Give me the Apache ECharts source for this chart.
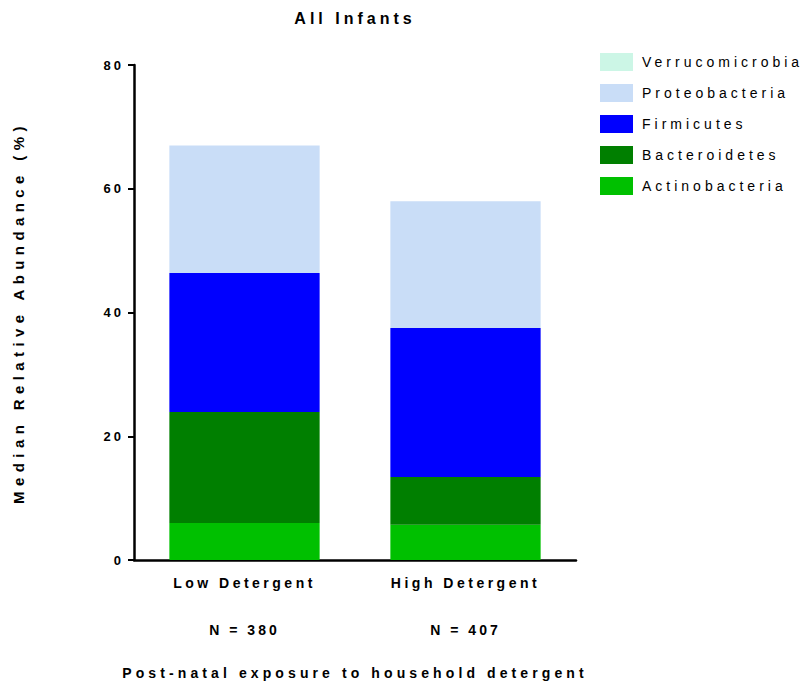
<!DOCTYPE html>
<html>
<head>
<meta charset="utf-8">
<script src="https://cdn.jsdelivr.net/npm/echarts@6/dist/echarts.min.js"></script>
<style>
  html, body { margin: 0; padding: 0; background: #fff; }
  #chart { width: 806px; height: 685px; }
  #chart svg text { letter-spacing: 3px; }
</style>
</head>
<body>
<div id="chart"></div>
<script>
const categories = ['Low Detergent', 'High Detergent'];
const sampleSizes = ['N = 380', 'N = 407'];
const yTicks = [0, 20, 40, 60, 80];

const actinobacteria  = [6.0, 5.7];
const bacteroidetes   = [17.9, 7.7];
const firmicutes      = [22.5, 24.1];
const proteobacteria  = [20.6, 20.5];
const verrucomicrobia = [0, 0];

const seriesNames  = ['Actinobacteria', 'Bacteroidetes', 'Firmicutes', 'Proteobacteria', 'Verrucomicrobia'];
const seriesValues = [actinobacteria, bacteroidetes, firmicutes, proteobacteria, verrucomicrobia];
const seriesColors = ['#00C000', '#007F00', '#0000FF', '#C9DDF7', '#CCF6E6'];
const legendOrder  = ['Verrucomicrobia', 'Proteobacteria', 'Firmicutes', 'Bacteroidetes', 'Actinobacteria'];

const titleText = 'All Infants';
const yName = 'Median Relative Abundance (%)';
const xName = 'Post-natal exposure to household detergent';

const FONT = 'Liberation Sans, Arial, sans-serif';

const chart = echarts.init(document.getElementById('chart'), null, { renderer: 'svg' });
chart.setOption({
  animation: false,
  title: {
    text: titleText,
    left: 350,
    top: 5,
    textAlign: 'center',
    textStyle: { fontFamily: FONT, fontWeight: 'bold', fontSize: 16, color: '#000' }
  },
  legend: {
    orient: 'vertical',
    left: 595,
    top: 48,
    itemWidth: 33,
    itemHeight: 18,
    itemGap: 13,
    icon: 'rect',
    data: legendOrder,
    textStyle: { fontFamily: FONT, fontSize: 14, color: '#000', padding: [0, 0, 0, 4] }
  },
  grid: { left: 134, right: 230, top: 65, bottom: 125, containLabel: false },
  xAxis: {
    type: 'category',
    data: categories,
    name: xName,
    nameLocation: 'middle',
    nameGap: 106,
    nameTextStyle: { fontFamily: FONT, fontWeight: 'bold', fontSize: 14, color: '#000' },
    axisLine: { lineStyle: { color: '#000', width: 2.5 } },
    axisTick: { alignWithLabel: true, length: 6, lineStyle: { color: '#000', width: 2 } },
    axisLabel: {
      margin: 15,
      formatter: function (v, i) { return '{a|' + v + '}\n{b|' + sampleSizes[i] + '}'; },
      rich: {
        a: { fontFamily: FONT, fontWeight: 'bold', fontSize: 14, color: '#000', lineHeight: 16 },
        b: { fontFamily: FONT, fontWeight: 'bold', fontSize: 14, color: '#000', lineHeight: 78 }
      }
    }
  },
  yAxis: {
    type: 'value',
    min: yTicks[0],
    max: yTicks[yTicks.length - 1],
    interval: 20,
    name: yName,
    nameLocation: 'middle',
    nameRotate: 90,
    nameGap: 108,
    nameTextStyle: { fontFamily: FONT, fontWeight: 'bold', fontSize: 15, color: '#000' },
    axisLine: { show: true, lineStyle: { color: '#000', width: 2.5 } },
    axisTick: { show: true, length: 6, lineStyle: { color: '#000', width: 2 } },
    axisLabel: { margin: 10, fontFamily: FONT, fontWeight: 'bold', fontSize: 13, color: '#000' },
    splitLine: { show: false }
  },
  series: seriesNames.map(function (name, k) {
    return {
      name: name,
      type: 'bar',
      stack: 'total',
      barWidth: '68%',
      data: seriesValues[k],
      itemStyle: { color: seriesColors[k] }
    };
  })
});

// letter spacing to mimic the wide tracking of the original figure
const spacing = {};
spacing[titleText] = 4;
spacing[yName] = 5.4;
spacing[xName] = 4.1;
legendOrder.forEach(function (n) { spacing[n] = 4; });
categories.forEach(function (n) { spacing[n] = 3.5; });
document.querySelectorAll('#chart svg text, #chart svg tspan').forEach(function (el) {
  const t = el.textContent;
  if (spacing[t] !== undefined) el.style.letterSpacing = spacing[t] + 'px';
});
</script>
</body>
</html>
